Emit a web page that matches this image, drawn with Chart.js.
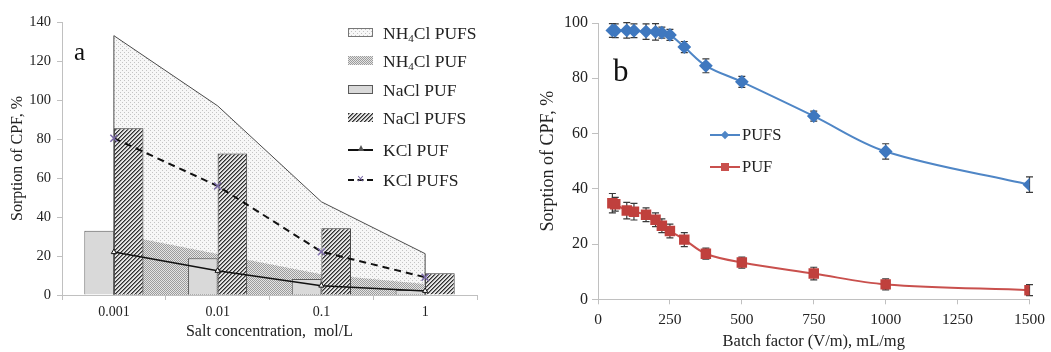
<!DOCTYPE html>
<html>
<head>
<meta charset="utf-8">
<script src="https://cdn.jsdelivr.net/npm/chart.js@4/dist/chart.umd.min.js"></script>
<style>
  body { margin: 0; background: #fff; width: 1051px; height: 352px; overflow: hidden; position: relative; font-family: 'Liberation Serif', 'Times New Roman', serif; color: #222; }
  canvas { position: absolute; top: 0; }
  #chartA { left: 0; }
  #chartB { left: 530px; }
  .tag { position: absolute; line-height: 1; color: #111; }
  .leg { position: absolute; white-space: nowrap; line-height: 20px; height: 20px; }
  .sw { position: absolute; top: 5px; width: 25px; height: 9px; box-sizing: border-box; }
  .leg span.t { position: absolute; left: 35px; top: 0; }
  sub { font-size: 11px; line-height: 0; vertical-align: -3px; }
</style>
</head>
<body>
<canvas id="chartA" width="525" height="352"></canvas>
<canvas id="chartB" width="521" height="352"></canvas>
<div class="tag" style="left:74px;top:39px;font-size:25px;">a</div>
<div class="tag" style="left:613px;top:55px;font-size:31px;">b</div>
<div id="legA"></div>
<div id="legB"></div>
<script>
// panel a: salt concentration
const concLabels = ['0.001', '0.01', '0.1', '1'];
const nh4clPufs = [133, 97, 47.8, 21.2];
const nh4clPuf = [31.6, 21, 10.6, 5.6];
const naclPuf = [33, 18.8, 8.2, 2.6];
const naclPufs = [85.5, 72.6, 34.2, 11.2];
const kclPuf = [22, 12.4, 4.8, 2.1];
const kclPufs = [80.4, 55.9, 22.2, 9.1];

// panel b: batch factor
const batchFactor = [50, 60, 100, 125, 167, 200, 222, 250, 300, 375, 500, 750, 1000, 1500];
const pufsSorption = [97.3, 97.2, 97.3, 97.2, 96.9, 96.8, 96.5, 95.7, 91.3, 84.5, 78.7, 66.3, 53.5, 41.5];
const pufsError = [2.5, 2.5, 2.8, 2.5, 2.8, 3, 2, 2, 2, 2.5, 2, 1.8, 2.8, 2.8];
const pufSorption = [34.8, 34.4, 32.1, 31.7, 30.6, 28.8, 26.6, 24.7, 21.6, 16.5, 13.3, 9.3, 5.4, 3.3];
const pufError = [3.5, 2.5, 3, 3, 2.5, 2.5, 2.5, 2.5, 2.5, 2, 2, 2.3, 2, 2];

const serif = "'Liberation Serif', 'Times New Roman', serif";
const axisGrey = '#c0c0c0';

function tile(size, paint) {
    const c = document.createElement('canvas');
    c.width = size; c.height = size;
    const g = c.getContext('2d');
    for (let x = 0; x < size; x++) {
        for (let y = 0; y < size; y++) {
            g.fillStyle = paint(x, y);
            g.fillRect(x, y, 1, 1);
        }
    }
    return c;
}
const lightDots = tile(4, (x, y) => ((x === 0 && y === 0) || (x === 2 && y === 2)) ? '#c4c4c4' : '#f7f7f7');
const darkDots = tile(2, (x, y) => (x + y) % 2 === 0 ? '#9c9c9c' : '#e4e4e4');
const hatch = tile(4, (x, y) => {
    const k = (x + y) % 4;
    return k === 0 ? '#2e2e2e' : (k === 1 ? '#808080' : '#e4e4e4');
});

const ctxA = document.getElementById('chartA').getContext('2d');
const pat = t => ctxA.createPattern(t, 'repeat');

// vertical closing edges of the outlined area
const areaEdges = {
    id: 'areaEdges',
    afterDatasetDraw(chart, args) {
        const ds = chart.data.datasets[args.index];
        if (!ds.edges) return;
        const pts = args.meta.data;
        const y0 = chart.scales.y.getPixelForValue(0);
        const c = chart.ctx;
        c.save();
        c.strokeStyle = ds.borderColor;
        c.lineWidth = ds.borderWidth;
        [pts[0], pts[pts.length - 1]].forEach(p => {
            c.beginPath();
            c.moveTo(p.x, p.y);
            c.lineTo(p.x, y0);
            c.stroke();
        });
        c.restore();
    }
};

new Chart(ctxA, {
    type: 'bar',
    data: {
        labels: concLabels,
        datasets: [{
            type: 'line', label: 'NH₄Cl PUFS', data: nh4clPufs, order: 6,
            fill: 'origin', backgroundColor: pat(lightDots), borderColor: '#4a4a4a', borderWidth: 1,
            pointRadius: 0, tension: 0, edges: true
        }, {
            type: 'line', label: 'NH₄Cl PUF', data: nh4clPuf, order: 5,
            fill: 'origin', backgroundColor: pat(darkDots), borderWidth: 0,
            pointRadius: 0, tension: 0
        }, {
            label: 'NaCl PUF', data: naclPuf, order: 3,
            backgroundColor: '#d9d9d9', borderColor: '#5a5a5a', borderWidth: 1,
            categoryPercentage: 0.57, barPercentage: 1
        }, {
            label: 'NaCl PUFS', data: naclPufs, order: 4,
            backgroundColor: pat(hatch), borderColor: '#333', borderWidth: 1,
            categoryPercentage: 0.57, barPercentage: 1
        }, {
            type: 'line', label: 'KCl PUF', data: kclPuf, order: 2,
            borderColor: '#111', borderWidth: 1.5, tension: 0,
            pointStyle: 'triangle', pointRadius: 3, pointBackgroundColor: '#fff', pointBorderColor: '#111', pointBorderWidth: 1
        }, {
            type: 'line', label: 'KCl PUFS', data: kclPufs, order: 1,
            borderColor: '#111', borderWidth: 2, borderDash: [7, 5], tension: 0,
            pointStyle: 'crossRot', pointRadius: 5, pointBorderColor: '#7b6aa8', pointBorderWidth: 1.5
        }]
    },
    options: {
        responsive: false,
        animation: false,
        layout: { padding: { top: 22, right: 48, left: 0, bottom: 0 } },
        plugins: { legend: { display: false }, tooltip: { enabled: false } },
        scales: {
            x: {
                grid: { drawOnChartArea: false, color: axisGrey, tickLength: 5, offset: true },
                border: { color: axisGrey },
                ticks: { color: '#222', font: { family: serif, size: 14 }, padding: 4 },
                title: { display: true, text: 'Salt concentration,  mol/L', color: '#222', font: { family: serif, size: 16 }, padding: { top: 0, bottom: 11 } },
                afterFit: s => { s.height = 57; }
            },
            y: {
                min: 0, max: 140,
                grid: { drawOnChartArea: false, color: axisGrey, tickLength: 5 },
                border: { color: axisGrey },
                ticks: { stepSize: 20, color: '#222', font: { family: serif, size: 14.5 }, padding: 6 },
                title: { display: true, text: 'Sorption of CPF, %', color: '#222', font: { family: serif, size: 16 }, padding: { top: 8, bottom: 0 } },
                afterFit: s => { s.width = 62; }
            }
        }
    },
    plugins: [areaEdges]
});

// error bars drawn from the y scale
const errorBars = {
    id: 'errorBars',
    beforeDatasetsDraw(chart) {
        const c = chart.ctx;
        const y = chart.scales.y;
        c.save();
        c.strokeStyle = '#3a3a3a';
        c.lineWidth = 1.2;
        chart.data.datasets.forEach((ds, i) => {
            chart.getDatasetMeta(i).data.forEach((pt, j) => {
                const v = ds.data[j].y, e = ds.errors[j];
                const t = y.getPixelForValue(v + e), b = y.getPixelForValue(v - e);
                c.beginPath();
                c.moveTo(pt.x, t); c.lineTo(pt.x, b);
                c.moveTo(pt.x - 3.5, t); c.lineTo(pt.x + 3.5, t);
                c.moveTo(pt.x - 3.5, b); c.lineTo(pt.x + 3.5, b);
                c.stroke();
            });
        });
        c.restore();
    }
};

new Chart(document.getElementById('chartB'), {
    type: 'line',
    data: {
        datasets: [{
            label: 'PUFS',
            data: batchFactor.map((x, i) => ({ x: x, y: pufsSorption[i] })),
            errors: pufsError,
            borderColor: '#4f86c6', borderWidth: 2, tension: 0.35,
            pointStyle: 'rectRot', pointRadius: 5.5, pointBackgroundColor: '#3f78bf', pointBorderColor: '#3f78bf'
        }, {
            label: 'PUF',
            data: batchFactor.map((x, i) => ({ x: x, y: pufSorption[i] })),
            errors: pufError,
            borderColor: '#c9504d', borderWidth: 2, tension: 0.35,
            pointStyle: 'rect', pointRadius: 6, pointBackgroundColor: '#c0403d', pointBorderColor: '#c0403d'
        }]
    },
    options: {
        responsive: false,
        animation: false,
        layout: { padding: { top: 23, right: 16, left: 0, bottom: 0 } },
        plugins: { legend: { display: false }, tooltip: { enabled: false } },
        scales: {
            x: {
                type: 'linear', min: 0, max: 1500,
                grid: { drawOnChartArea: false, color: axisGrey, tickLength: 5 },
                border: { color: axisGrey },
                ticks: { stepSize: 250, color: '#222', font: { family: serif, size: 15.5 }, padding: 6, callback: v => String(v) },
                title: { display: true, text: 'Batch factor (V/m), mL/mg', color: '#222', font: { family: serif, size: 16.5 }, padding: { top: 0, bottom: 0 } },
                afterFit: s => { s.height = 52.7; }
            },
            y: {
                min: 0, max: 100,
                grid: { drawOnChartArea: false, color: axisGrey, tickLength: 6 },
                border: { color: axisGrey },
                ticks: { stepSize: 20, color: '#222', font: { family: serif, size: 16 }, padding: 4 },
                title: { display: true, text: 'Sorption of CPF, %', color: '#222', font: { family: serif, size: 18 }, padding: { top: 7, bottom: 0 } },
                afterFit: s => { s.width = 68; }
            }
        }
    },
    plugins: [errorBars]
});

// legends (html, so the subscript stays real text)
const legendA = [
    { name: 'NH<sub>4</sub>Cl PUFS', css: `background:url(${lightDots.toDataURL()});border:1px solid #777;` },
    { name: 'NH<sub>4</sub>Cl PUF', css: `background:url(${darkDots.toDataURL()});` },
    { name: 'NaCl PUF', css: 'background:#d9d9d9;border:1px solid #5a5a5a;' },
    { name: 'NaCl PUFS', css: `background:url(${hatch.toDataURL()});` },
    { name: 'KCl PUF', line: 'solid', mark: 'tri' },
    { name: 'KCl PUFS', line: 'dashed', mark: 'x' }
];
const legARows = [33, 61, 90, 118, 150, 180];
let htmlA = '';
legendA.forEach((it, i) => {
    let sw;
    if (it.line) {
        sw = `<div style="position:absolute;left:0;top:9px;width:25px;height:0;border-top:2px ${it.line} #111;"></div>`;
        if (it.mark === 'tri') sw += `<div style="position:absolute;left:10px;top:5px;width:0;height:0;border-left:3px solid transparent;border-right:3px solid transparent;border-bottom:6px solid #555;"></div>`;
        else sw += `<div style="position:absolute;left:9px;top:3px;font:12px sans-serif;color:#7b6aa8;line-height:12px;">×</div>`;
    } else {
        sw = `<div class="sw" style="left:0;${it.css}"></div>`;
    }
    htmlA += `<div class="leg" style="left:348px;top:${legARows[i] - 10}px;font-size:17.5px;">${sw}<span class="t">${it.name}</span></div>`;
});
document.getElementById('legA').innerHTML = htmlA;

const legendB = [
    { name: 'PUFS', color: '#4f86c6', mark: 'transform:rotate(45deg);width:6px;height:6px;top:7px;left:12px;', y: 135 },
    { name: 'PUF', color: '#c9504d', mark: 'width:8px;height:8px;top:6px;left:11px;', y: 167 }
];
let htmlB = '';
legendB.forEach(it => {
    htmlB += `<div class="leg" style="left:710px;top:${it.y - 10}px;font-size:16.5px;">` +
        `<div style="position:absolute;left:0;top:9px;width:30px;height:2px;background:${it.color};"></div>` +
        `<div style="position:absolute;background:${it.color};${it.mark}"></div>` +
        `<span style="position:absolute;left:32px;top:0;">${it.name}</span></div>`;
});
document.getElementById('legB').innerHTML = htmlB;
</script>
</body>
</html>
